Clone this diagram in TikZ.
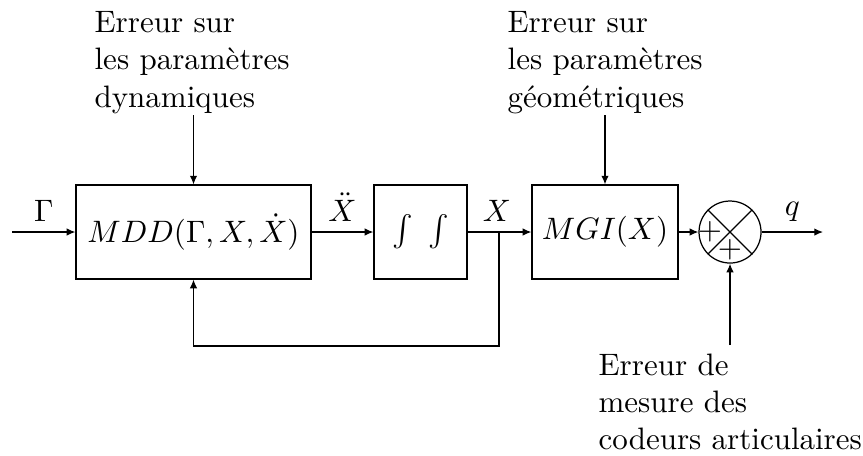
\documentclass[tikz,border=0pt]{standalone}
\usetikzlibrary{arrows.meta,calc}
\begin{document}
\begin{tikzpicture}[x=0.3226pt,y=-0.3226pt,
  blk/.style={draw,rectangle,inner sep=0pt,minimum height=30.3pt},
  sumc/.style={draw,circle,inner sep=0pt,minimum size=20pt},
  lbl/.style={align=left,anchor=north west,inner sep=0pt},
  conn/.style={-{Latex[length=2.8pt,width=2.4pt]}},
  line/.style={draw}]
\useasboundingbox (0,0) rectangle (863,455);
\node[blk,minimum width=75.8pt] (mdd) at (193.5,232) {$MDD(\Gamma, X, \dot{X})$};
\node[blk,minimum width=30pt] (int) at (420.5,232) {$\int\ \int$};
\node[blk,minimum width=47.1pt] (mgi) at (605,232) {$MGI(X)$};
\node[sumc] (sum) at (730,232) {};
\draw (sum.north west) -- (sum.south east);
\draw (sum.north east) -- (sum.south west);
\node (p1) at (710,232) {$+$};
\node (p2) at (730,250) {$+$};
\coordinate (in) at (12,232);
\coordinate (out) at (823,232);
\coordinate (br) at (499,232);
\coordinate (fb) at (499,346);
\node[lbl] (t1) at (94,11) {Erreur sur\\les paramètres\\dynamiques};
\node[lbl] (t2) at (507,11) {Erreur sur\\les paramètres\\géométriques};
\node[lbl] (t3) at (598,353) {Erreur de\\mesure des\\codeurs articulaires};
\coordinate (a1) at (193.5,115);
\coordinate (a2) at (605,115);
\coordinate (a3) at (730,345);
\draw[conn] (in) -- node[above] {$\Gamma$} (mdd.west);
\draw[conn] (mdd.east) -- node[above] {$\ddot{X}$} (int.west);
\draw[conn] (int.east) -- (mgi.west);
\node[above] (xl) at (497,232) {$X$};
\draw[conn] (br) -- (fb) -| (mdd.south);
\draw[conn] (mgi.east) -- (sum.west);
\draw[conn] (sum.east) -- node[above] {$q$} (out);
\draw[conn] (a1) -- (mdd.north);
\draw[conn] (a2) -- (mgi.north);
\draw[conn] (a3) -- (sum.south);
\end{tikzpicture}
\end{document}
